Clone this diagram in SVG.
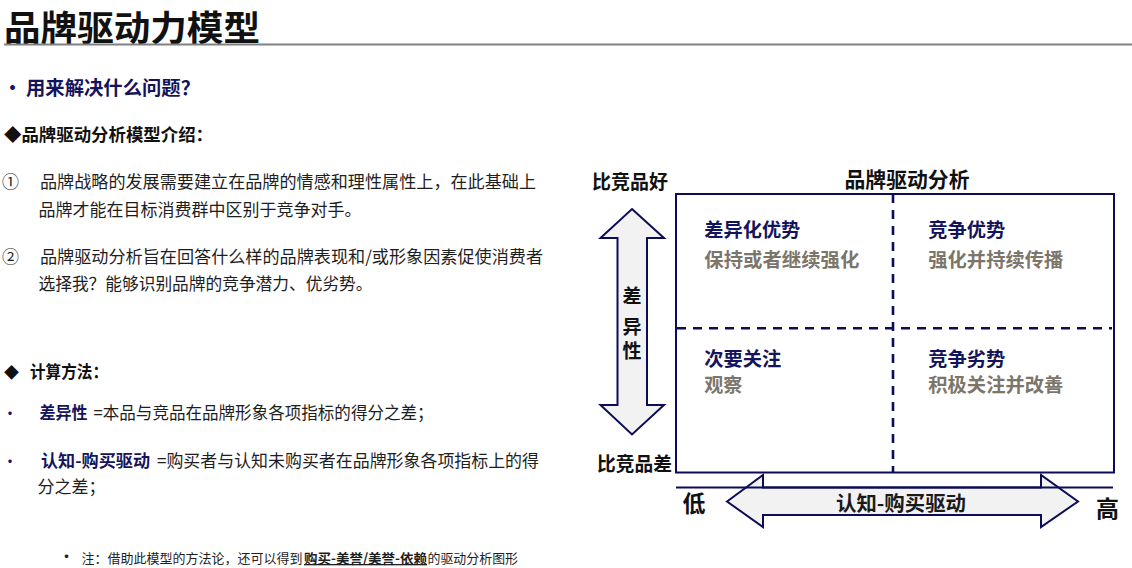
<svg xmlns="http://www.w3.org/2000/svg" width="1132" height="568" viewBox="0 0 1132 568">
<style>
text{font-family:"Noto Sans CJK SC","Liberation Sans",sans-serif;}
.b{font-weight:bold;}
.blk{fill:#111;}
.body{fill:#1e1e1e;font-size:17px;}
.navy{fill:#14145c;}
.gray{fill:#7b756a;}
.q{font-size:19px;font-weight:bold;}
.arrow{fill:#f2f2f2;stroke:#0c0c58;stroke-width:2;stroke-linejoin:miter;}
.dash{stroke:#0c0c58;stroke-width:2.6;stroke-dasharray:9 7;fill:none;}
</style>
<rect x="0" y="0" width="1132" height="568" fill="#fff"/>

<g id="header">
<text x="4" y="41" class="b blk" font-size="35" textLength="256" lengthAdjust="spacingAndGlyphs">品牌驱动力模型</text>
<line x1="4" y1="44.5" x2="1132" y2="44.5" stroke="#808080" stroke-width="2"/>
</g>

<g id="left-text">
<text x="3" y="95" class="b navy" font-size="19">•</text>
<text x="26" y="95" class="b navy" font-size="19" textLength="174" lengthAdjust="spacingAndGlyphs">用来解决什么问题？</text>
<text x="4" y="141" class="b blk" font-size="17.5" textLength="209" lengthAdjust="spacingAndGlyphs">◆品牌驱动分析模型介绍：</text>

<text x="2" y="188" class="body">①</text>
<text x="40" y="188.2" class="body" textLength="496" lengthAdjust="spacingAndGlyphs">品牌战略的发展需要建立在品牌的情感和理性属性上，在此基础上</text>
<text x="38.5" y="215.8" class="body" textLength="323" lengthAdjust="spacingAndGlyphs">品牌才能在目标消费群中区别于竞争对手。</text>
<text x="2" y="263" class="body">②</text>
<text x="40" y="263.2" class="body" textLength="503" lengthAdjust="spacingAndGlyphs">品牌驱动分析旨在回答什么样的品牌表现和/或形象因素促使消费者</text>
<text x="38.5" y="289.8" class="body" textLength="334" lengthAdjust="spacingAndGlyphs">选择我？能够识别品牌的竞争潜力、优劣势。</text>

<text x="4" y="378" class="b blk" font-size="15">◆</text>
<text x="30" y="378" class="b blk" font-size="17" textLength="78" lengthAdjust="spacingAndGlyphs">计算方法：</text>

<text x="2" y="418.8" class="navy" font-size="16">•</text>
<text x="39.5" y="418.8" class="b navy" font-size="16.5" textLength="48" lengthAdjust="spacingAndGlyphs">差异性</text>
<text x="93.6" y="418.8" class="body" textLength="340" lengthAdjust="spacingAndGlyphs">=本品与竞品在品牌形象各项指标的得分之差；</text>

<text x="2" y="466.5" class="navy" font-size="16">•</text>
<text x="41" y="466.5" class="b navy" font-size="16.5" textLength="109" lengthAdjust="spacingAndGlyphs">认知-购买驱动</text>
<text x="157" y="466.5" class="body" textLength="382" lengthAdjust="spacingAndGlyphs">=购买者与认知未购买者在品牌形象各项指标上的得</text>
<text x="37.5" y="493" class="body" textLength="68" lengthAdjust="spacingAndGlyphs">分之差；</text>

<text x="58" y="563" class="body" font-size="13">•</text>
<text x="81.4" y="563" fill="#1e1e1e" font-size="13" textLength="221" lengthAdjust="spacingAndGlyphs">注：借助此模型的方法论，还可以得到</text>
<text x="304" y="563" class="b" fill="#1e1e1e" font-size="13" text-decoration="underline" textLength="123" lengthAdjust="spacingAndGlyphs">购买-美誉/美誉-依赖</text>
<text x="427.5" y="563" fill="#1e1e1e" font-size="13" textLength="90.5" lengthAdjust="spacingAndGlyphs">的驱动分析图形</text>
</g>

<g id="axis-labels">
<text x="592" y="189" class="b blk" font-size="19" textLength="76" lengthAdjust="spacingAndGlyphs">比竞品好</text>
<text x="597" y="470.5" class="b blk" font-size="19" textLength="75" lengthAdjust="spacingAndGlyphs">比竞品差</text>
<text x="682.5" y="511.5" class="b blk" font-size="23">低</text>
<text x="1096" y="516.5" class="b blk" font-size="23">高</text>
</g>

<g id="matrix">
<text x="907" y="187" class="b blk" font-size="21" text-anchor="middle" textLength="125" lengthAdjust="spacingAndGlyphs">品牌驱动分析</text>
<rect x="676" y="194" width="438" height="278.5" fill="none" stroke="#0c0c58" stroke-width="2"/>
</g>

<g id="connectors">
<line class="dash" x1="893" y1="194" x2="893" y2="472"/>
<line class="dash" x1="677" y1="328.3" x2="1112" y2="328.3"/>
</g>

<g id="q-top-left">
<text x="704.3" y="237.3" class="q navy" textLength="96" lengthAdjust="spacingAndGlyphs">差异化优势</text>
<text x="704.3" y="266.8" class="q gray" textLength="155" lengthAdjust="spacingAndGlyphs">保持或者继续强化</text>
</g>
<g id="q-top-right">
<text x="928.3" y="237.3" class="q navy" textLength="77" lengthAdjust="spacingAndGlyphs">竞争优势</text>
<text x="928.3" y="266.8" class="q gray" textLength="135" lengthAdjust="spacingAndGlyphs">强化并持续传播</text>
</g>
<g id="q-bottom-left">
<text x="704.3" y="366" class="q navy" textLength="77" lengthAdjust="spacingAndGlyphs">次要关注</text>
<text x="704.3" y="391.8" class="q gray" textLength="38" lengthAdjust="spacingAndGlyphs">观察</text>
</g>
<g id="q-bottom-right">
<text x="928.3" y="366" class="q navy" textLength="77" lengthAdjust="spacingAndGlyphs">竞争劣势</text>
<text x="928.3" y="391.8" class="q gray" textLength="135" lengthAdjust="spacingAndGlyphs">积极关注并改善</text>
</g>

<g id="arrow-vertical">
<polygon class="arrow" points="632,209 664,238 647,238 647,405 664,405 632,434.5 600.5,405 617.5,405 617.5,238 600.5,238"/>
<text x="632" y="303.2" class="b blk" font-size="19" text-anchor="middle">差</text>
<text x="632" y="333.9" class="b blk" font-size="19" text-anchor="middle">异</text>
<text x="632" y="358.2" class="b blk" font-size="19" text-anchor="middle">性</text>
</g>

<g id="arrow-horizontal">
<polygon class="arrow" points="727,501.5 763,475 763,487.5 1041,487.5 1041,475 1078,501.5 1041,527 1041,515 763,515 763,527"/>
<line x1="676" y1="487.5" x2="1113" y2="487.5" stroke="#0c0c58" stroke-width="2"/>
<text x="901" y="510.6" class="b" fill="#1a1a1a" font-size="20" text-anchor="middle" textLength="130" lengthAdjust="spacingAndGlyphs">认知-购买驱动</text>
</g>
</svg>
